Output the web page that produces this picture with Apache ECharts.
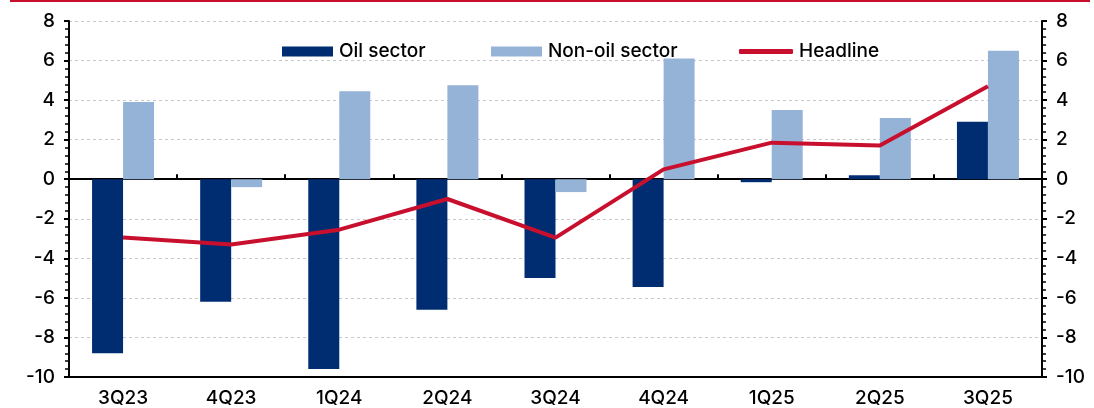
<!DOCTYPE html>
<html>
<head>
<meta charset="utf-8">
<script src="https://cdn.jsdelivr.net/npm/echarts@6/dist/echarts.min.js"></script>
<style>
html,body{margin:0;padding:0;background:#fff;}
#chart{width:1094px;height:408px;}
</style>
</head>
<body>
<div id="chart"></div>
<script>
const categories = ['3Q23','4Q23','1Q24','2Q24','3Q24','4Q24','1Q25','2Q25','3Q25'];
const oilSector = [-8.8, -6.2, -9.6, -6.6, -5.0, -5.45, -0.15, 0.2, 2.9];
const nonOilSector = [3.9, -0.4, 4.45, 4.75, -0.65, 6.1, 3.5, 3.1, 6.5];
const headline = [-2.95, -3.3, -2.55, -1.0, -2.95, 0.5, 1.85, 1.7, 4.7];
const yTicks = {min: -10, max: 8, interval: 2};

const FONT = 'Inter';
const FW = 500;
const chart = echarts.init(document.getElementById('chart'));

const yAxisBase = (pos) => ({
  type: 'value',
  position: pos,
  min: yTicks.min, max: yTicks.max, interval: yTicks.interval,
  axisLine: {show: true, onZero: false, lineStyle: {color: '#000', width: 2}},
  axisTick: {show: true, length: 5, inside: false, lineStyle: {color: '#000', width: 2}},
  minorTick: {show: true, splitNumber: 5, length: 4, lineStyle: {color: '#000', width: 1.5}},
  axisLabel: {color: '#000', fontFamily: FONT, fontWeight: FW, fontSize: 19, margin: 14},
  splitLine: {show: pos === 'left', lineStyle: {color: '#c8c8c8', type: [3, 3], width: 1}}
});

const legendBase = {
  top: 42,
  padding: 0,
  itemGap: 0,
  itemWidth: 51,
  itemHeight: 10,
  textStyle: {color: '#000', fontFamily: FONT, fontWeight: FW, fontSize: 19, padding: [0, 0, 0, 1]},
  selectedMode: false
};

chart.setOption({
  animation: false,
  backgroundColor: '#fff',
  grid: {left: 69, right: 52, top: 21, bottom: 31},
  graphic: [{type: 'rect', left: 10, top: 0, shape: {width: 1080, height: 2}, style: {fill: '#C8102E'}}],
  legend: [
    Object.assign({}, legendBase, {left: 282, data: [{name: 'Oil sector', icon: 'rect'}]}),
    Object.assign({}, legendBase, {left: 491, data: [{name: 'Non-oil sector', icon: 'rect'}]}),
    Object.assign({}, legendBase, {left: 739, itemWidth: 54, itemHeight: 5, data: [{name: 'Headline', icon: 'roundRect'}]})
  ],
  xAxis: [
    {
      type: 'category', data: categories, position: 'bottom',
      axisLine: {show: true, onZero: false, lineStyle: {color: '#000', width: 2}},
      axisTick: {show: false},
      axisLabel: {color: '#000', fontFamily: FONT, fontWeight: FW, fontSize: 19, margin: 12},
      splitLine: {show: false}
    },
    {
      type: 'category', data: categories,
      axisLine: {show: true, onZero: true, lineStyle: {color: '#000', width: 2}},
      axisTick: {show: true, length: 5, inside: false, lineStyle: {color: '#000', width: 2}},
      axisLabel: {show: false},
      splitLine: {show: false}
    }
  ],
  yAxis: [yAxisBase('left'), yAxisBase('right')],
  series: [
    {name: 'Oil sector', type: 'bar', data: oilSector, barWidth: 31, barGap: '0%', itemStyle: {color: '#002D72'}},
    {name: 'Non-oil sector', type: 'bar', data: nonOilSector, barWidth: 31, barGap: '0%', itemStyle: {color: '#95B3D7'}},
    {name: 'Headline', type: 'line', data: headline, symbol: 'none', z: 5,
     lineStyle: {color: '#C8102E', width: 4}, itemStyle: {color: '#C8102E'}}
  ]
});
</script>
</body>
</html>
